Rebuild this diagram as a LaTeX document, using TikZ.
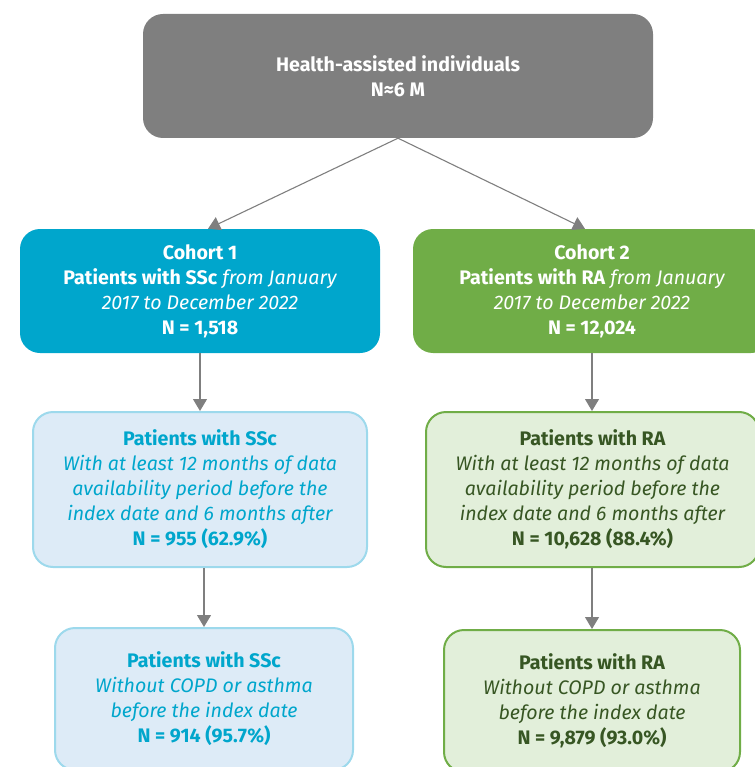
\documentclass[tikz,border=0pt]{standalone}
\usepackage{fontspec}
\setmainfont{Fira Sans}
\usetikzlibrary{arrows.meta}
\definecolor{topgray}{HTML}{7F7F7F}
\definecolor{cblue}{HTML}{00A6CC}
\definecolor{cgreen}{HTML}{70AD47}
\definecolor{lblue}{HTML}{DDEBF7}
\definecolor{lblueedge}{HTML}{9DD9EC}
\definecolor{lgreen}{HTML}{E2EFDA}
\definecolor{dgreen}{HTML}{375623}
\tikzset{
  boxbase/.style={rounded corners=20pt, align=center, inner sep=0pt,
    font=\fontsize{19.6}{25}\selectfont},
  topbox/.style={boxbase, fill=topgray, text=white},
  cohortblue/.style={boxbase, fill=cblue, text=white},
  cohortgreen/.style={boxbase, fill=cgreen, text=white},
  subblue/.style={boxbase, fill=lblue, draw=lblueedge, line width=2pt, text=cblue},
  subgreen/.style={boxbase, fill=lgreen, draw=cgreen, line width=2pt, text=dgreen},
  flow/.style={draw=topgray, line width=1.1pt, -{Triangle[width=14pt,length=12pt]}}
}
\begin{document}
\begin{tikzpicture}[x=1pt,y=-1pt]
\useasboundingbox (0,0) rectangle (754,767);
\node[topbox, minimum width=510pt, minimum height=124pt] (top) at (398,76)
  {\bfseries Health-assisted individuals\\ \bfseries N≈6 M};
\node[cohortblue, minimum width=360pt, minimum height=124pt] (c1) at (200,291)
  {\bfseries Cohort 1\\ {\bfseries Patients with SSc} \itshape from January\\ \itshape 2017 to December 2022\\ \bfseries N = 1,518};
\node[cohortgreen, minimum width=358pt, minimum height=124pt] (c2) at (592,291)
  {\bfseries Cohort 2\\ {\bfseries Patients with RA} \itshape from January\\ \itshape 2017 to December 2022\\ \bfseries N = 12,024};
\node[subblue, minimum width=334pt, minimum height=155pt] (m1) at (200,489.5)
  {\bfseries Patients with SSc\\ \itshape With at least 12 months of data\\ \itshape availability period before the\\ \itshape index date and 6 months after\\ \bfseries N = 955 (62.9\%)};
\node[subgreen, minimum width=333pt, minimum height=155pt] (m2) at (592.5,489.5)
  {\bfseries Patients with RA\\ \itshape With at least 12 months of data\\ \itshape availability period before the\\ \itshape index date and 6 months after\\ \bfseries N = 10,628 (88.4\%)};
\node[subblue, minimum width=298pt, minimum height=142pt] (b1) at (204,699)
  {\bfseries Patients with SSc\\ \itshape Without COPD or asthma\\ \itshape before the index date\\ \bfseries N = 914 (95.7\%)};
\node[subgreen, minimum width=296pt, minimum height=142pt] (b2) at (592,701)
  {\bfseries Patients with RA\\ \itshape Without COPD or asthma\\ \itshape before the index date\\ \bfseries N = 9,879 (93.0\%)};
\draw[flow] (top.south) -- ([xshift=8pt]c1.north);
\draw[flow] (top.south) -- ([xshift=-7pt]c2.north);
\draw[flow] (c1.south) -- (m1.north);
\draw[flow] (c2.south -| b2.north) -- (m2.north -| b2.north);
\draw[flow] (m1.south -| b1.north) -- (b1.north);
\draw[flow] (m2.south -| b2.north) -- (b2.north);
\end{tikzpicture}
\end{document}
